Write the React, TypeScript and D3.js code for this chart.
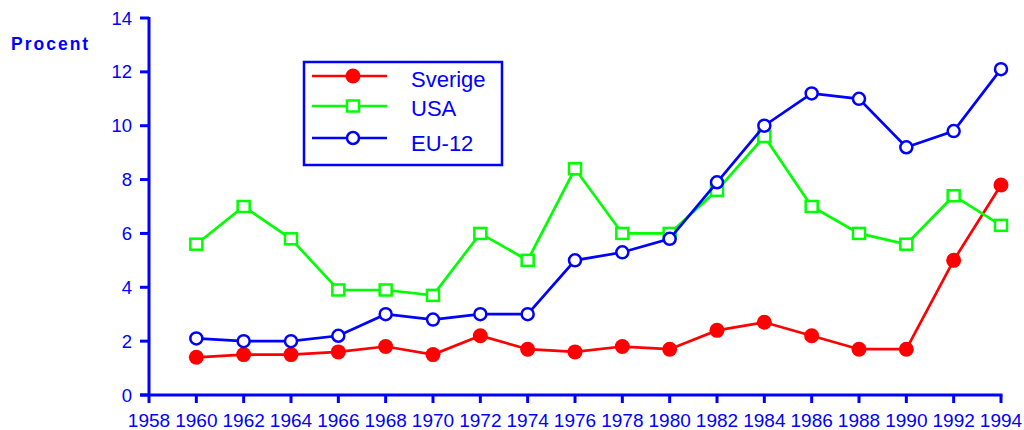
import * as d3 from "d3"

const years = [1960, 1962, 1964, 1966, 1968, 1970, 1972, 1974, 1976, 1978, 1980, 1982, 1984, 1986, 1988, 1990, 1992, 1994]
const sverige = [1.4, 1.5, 1.5, 1.6, 1.8, 1.5, 2.2, 1.7, 1.6, 1.8, 1.7, 2.4, 2.7, 2.2, 1.7, 1.7, 5.0, 7.8]
const usa = [5.6, 7.0, 5.8, 3.9, 3.9, 3.7, 6.0, 5.0, 8.4, 6.0, 6.0, 7.6, 9.6, 7.0, 6.0, 5.6, 7.4, 6.3]
const eu12 = [2.1, 2.0, 2.0, 2.2, 3.0, 2.8, 3.0, 3.0, 5.0, 5.3, 5.8, 7.9, 10.0, 11.2, 11.0, 9.2, 9.8, 12.1]
const xTicks = [1958, 1960, 1962, 1964, 1966, 1968, 1970, 1972, 1974, 1976, 1978, 1980, 1982, 1984, 1986, 1988, 1990, 1992, 1994]
const yTicks = [0, 2, 4, 6, 8, 10, 12, 14]
const seriesNames = ["Sverige", "USA", "EU-12"]

const BLUE = "#0000ff"
const font = "'Liberation Sans', Arial, sans-serif"

function Marker({ kind, x, y, color }: { kind: string; x: number; y: number; color: string }) {
  if (kind === "dot") return <circle cx={x} cy={y} r={7.5} fill={color} />
  if (kind === "square")
    return <rect x={x - 6} y={y - 5.5} width={12} height={11} fill="white" stroke={color} strokeWidth={2.5} />
  return <circle cx={x} cy={y} r={6} fill="white" stroke={color} strokeWidth={2.5} />
}

export default function App() {
  const x = d3.scaleLinear().domain([1958, 1994]).range([149, 1001])
  const y = d3.scaleLinear().domain([0, 14]).range([395, 18])

  const series = [
    { name: seriesNames[0], values: sverige, color: "#ff0000", kind: "dot" },
    { name: seriesNames[1], values: usa, color: "#00ff00", kind: "square" },
    { name: seriesNames[2], values: eu12, color: BLUE, kind: "circle" },
  ]

  const line = d3
    .line<number>()
    .x((_, i) => x(years[i]))
    .y((d) => y(d))

  const legendRows = [76, 106, 138]
  const legendText = [87, 116, 151]

  return (
    <svg
      width={1024}
      height={430}
      style={{ position: "absolute", left: 0, top: 0, background: "white" }}
      fontFamily={font}
    >
      <rect width={1024} height={430} fill="white" />

      {/* y axis */}
      <line x1={x(1958)} x2={x(1958)} y1={y(14) - 1} y2={y(0)} stroke={BLUE} strokeWidth={3} />
      {yTicks.map((t) => (
        <g key={t}>
          <line x1={140} x2={x(1958)} y1={y(t)} y2={y(t)} stroke={BLUE} strokeWidth={3} />
          <text x={132} y={y(t) + 6.5} textAnchor="end" fontSize={18.5} fill={BLUE}>
            {t}
          </text>
        </g>
      ))}

      {/* x axis */}
      <line x1={140} x2={x(1994) + 1.5} y1={y(0)} y2={y(0)} stroke={BLUE} strokeWidth={3} />
      {xTicks.map((t) => (
        <g key={t}>
          <line x1={x(t)} x2={x(t)} y1={y(0)} y2={403} stroke={BLUE} strokeWidth={3} />
          <text x={x(t)} y={427} textAnchor="middle" fontSize={19} fill={BLUE}>
            {t}
          </text>
        </g>
      ))}

      <text x={11} y={50} fontSize={17.5} fontWeight="bold" letterSpacing={2} fill={BLUE}>
        Procent
      </text>

      {series.map((s) => (
        <g key={s.name}>
          <path d={line(s.values) ?? ""} fill="none" stroke={s.color} strokeWidth={2.7} />
          {s.values.map((v, i) => (
            <Marker key={i} kind={s.kind} x={x(years[i])} y={y(v)} color={s.color} />
          ))}
        </g>
      ))}

      {/* legend */}
      <rect x={304} y={62} width={198} height={103} fill="white" stroke={BLUE} strokeWidth={2.5} />
      {series.map((s, i) => (
        <g key={s.name}>
          <line x1={312} x2={387} y1={legendRows[i]} y2={legendRows[i]} stroke={s.color} strokeWidth={2.7} />
          <Marker kind={s.kind} x={353} y={legendRows[i]} color={s.color} />
          <text x={411} y={legendText[i]} fontSize={22} fill={BLUE}>
            {s.name}
          </text>
        </g>
      ))}
    </svg>
  )
}
